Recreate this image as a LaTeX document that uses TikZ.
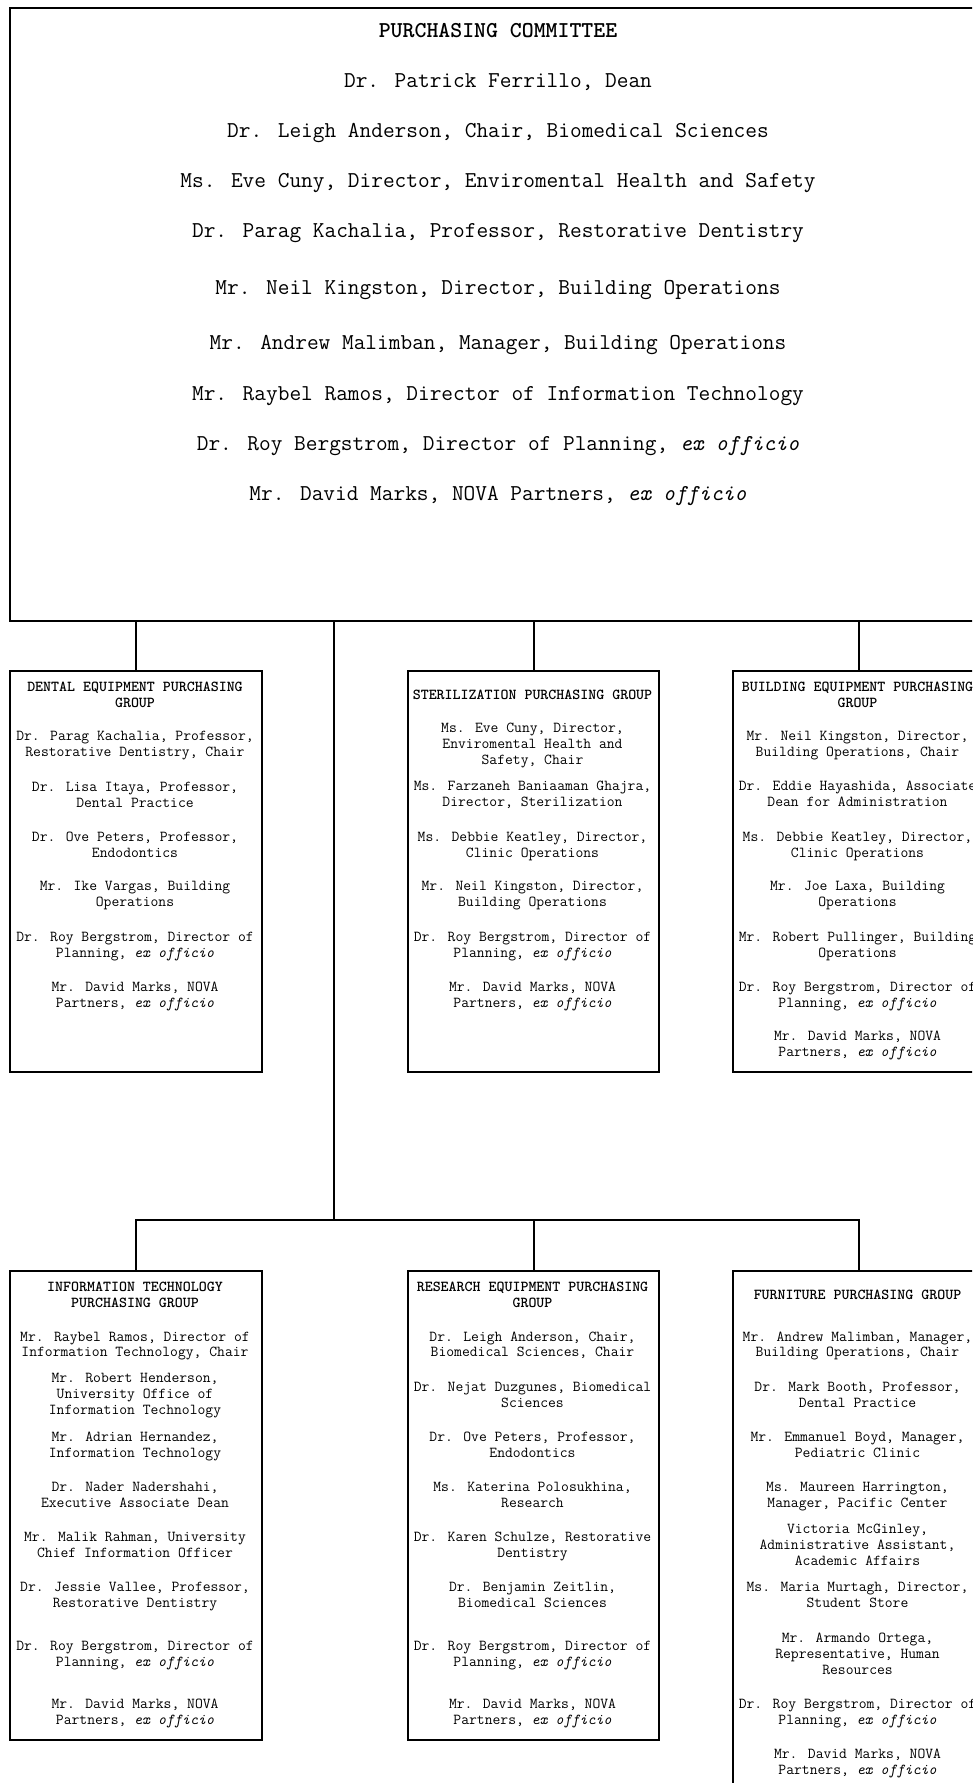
\documentclass[tikz,border=0pt]{standalone}
\usepackage{fontspec}
\newcommand\bigmono{\ttfamily\fontsize{22.7}{26}\selectfont}
\newcommand\rowonefont{\ttfamily\fontsize{15.2}{16}\selectfont}
\newcommand\rowtwofont{\ttfamily\fontsize{15.2}{15.7}\selectfont}
\begin{document}
\begin{tikzpicture}[x=1pt,y=-1pt,line width=2pt,line join=miter,
  box/.style={draw,line width=2pt,anchor=north west,inner sep=0pt},
  toptxt/.style={font=\bigmono,anchor=base,inner sep=0pt},
  onetxt/.style={font=\rowonefont,align=center,anchor=base,inner sep=0pt},
  twotxt/.style={font=\rowtwofont,align=center,anchor=base,inner sep=0pt},
  onehead/.style={onetxt,font=\rowonefont\bfseries},
  twohead/.style={twotxt,font=\rowtwofont\bfseries}]
\path[use as bounding box] (0,0) rectangle (972,1783);
\clip (0,0) rectangle (972,1783);
\fill[white] (0,0) rectangle (972,1783);

% boxes
\node[box,minimum width=978pt,minimum height=613pt] (top) at (9,7) {};
\node[box,minimum width=252pt,minimum height=401pt] (dental) at (9,670) {};
\node[box,minimum width=251pt,minimum height=401pt] (steril) at (407,670) {};
\node[box,minimum width=251pt,minimum height=401pt] (build) at (732,670) {};
\node[box,minimum width=252pt,minimum height=469pt] (it) at (9,1270) {};
\node[box,minimum width=251pt,minimum height=469pt] (research) at (407,1270) {};
\node[box,minimum width=251pt,minimum height=560pt] (furn) at (732,1270) {};

% connectors
\coordinate (junction) at (334,1220);
\draw (top.south -| dental.north) -- (dental.north);
\draw (top.south -| steril.north) -- (steril.north);
\draw (top.south -| build.north) -- (build.north);
\draw (top.south -| junction) -- (junction);
\draw (it.north) -- (it.north |- junction) -- (furn.north |- junction) -- (furn.north);
\draw (research.north |- junction) -- (research.north);

% top committee (anchor = baseline)
\node[toptxt,font=\bigmono\bfseries] (t0) at (498,37) {PURCHASING COMMITTEE};
\node[toptxt] (t1) at (498,87) {Dr. Patrick Ferrillo, Dean};
\node[toptxt] (t2) at (498,137) {Dr. Leigh Anderson, Chair, Biomedical Sciences};
\node[toptxt] (t3) at (498,187) {Ms. Eve Cuny, Director, Enviromental Health and Safety};
\node[toptxt] (t4) at (498,237) {Dr. Parag Kachalia, Professor, Restorative Dentistry};
\node[toptxt] (t5) at (498,294) {Mr. Neil Kingston, Director, Building Operations};
\node[toptxt] (t6) at (498,349) {Mr. Andrew Malimban, Manager, Building Operations};
\node[toptxt] (t7) at (498,400) {Mr. Raybel Ramos, Director of Information Technology};
\node[toptxt] (t8) at (498,450) {Dr. Roy Bergstrom, Director of Planning, \textit{ex officio}};
\node[toptxt] (t9) at (498,500) {Mr. David Marks, NOVA Partners, \textit{ex officio}};

% group boxes: node anchor = baseline of the LAST line
% dental
\node[onehead] (d0) at (135,707) {DENTAL EQUIPMENT PURCHASING\\GROUP};
\node[onetxt] (d1) at (135,756.7) {Dr. Parag Kachalia, Professor,\\Restorative Dentistry, Chair};
\node[onetxt] (d2) at (135,807) {Dr. Lisa Itaya, Professor,\\Dental Practice};
\node[onetxt] (d3) at (135,857) {Dr. Ove Peters, Professor,\\Endodontics};
\node[onetxt] (d4) at (135,906.7) {Mr. Ike Vargas, Building\\Operations};
\node[onetxt] (d5) at (135,957) {Dr. Roy Bergstrom, Director of\\Planning, \textit{ex officio}};
\node[onetxt] (d6) at (135,1007) {Mr. David Marks, NOVA\\Partners, \textit{ex officio}};

% sterilization
\node[onehead] (s0) at (532.5,699) {STERILIZATION PURCHASING GROUP};
\node[onetxt] (s1) at (532.5,764) {Ms. Eve Cuny, Director,\\Enviromental Health and\\Safety, Chair};
\node[onetxt] (s2) at (532.5,806.7) {Ms. Farzaneh Baniaaman Ghajra,\\Director, Sterilization};
\node[onetxt] (s3) at (532.5,857) {Ms. Debbie Keatley, Director,\\Clinic Operations};
\node[onetxt] (s4) at (532.5,906.7) {Mr. Neil Kingston, Director,\\Building Operations};
\node[onetxt] (s5) at (532.5,957) {Dr. Roy Bergstrom, Director of\\Planning, \textit{ex officio}};
\node[onetxt] (s6) at (532.5,1007) {Mr. David Marks, NOVA\\Partners, \textit{ex officio}};

% building
\node[onehead] (b0) at (857.5,707) {BUILDING EQUIPMENT PURCHASING\\GROUP};
\node[onetxt] (b1) at (857.5,756.7) {Mr. Neil Kingston, Director,\\Building Operations, Chair};
\node[onetxt] (b2) at (857.5,806.7) {Dr. Eddie Hayashida, Associate\\Dean for Administration};
\node[onetxt] (b3) at (857.5,857) {Ms. Debbie Keatley, Director,\\Clinic Operations};
\node[onetxt] (b4) at (857.5,906.7) {Mr. Joe Laxa, Building\\Operations};
\node[onetxt] (b5) at (857.5,957) {Mr. Robert Pullinger, Building\\Operations};
\node[onetxt] (b6) at (857.5,1007) {Dr. Roy Bergstrom, Director of\\Planning, \textit{ex officio}};
\node[onetxt] (b7) at (857.5,1056.7) {Mr. David Marks, NOVA\\Partners, \textit{ex officio}};

% information technology
\node[twohead] (i0) at (135,1307) {INFORMATION TECHNOLOGY\\PURCHASING GROUP};
\node[twotxt] (i1) at (135,1356.8) {Mr. Raybel Ramos, Director of\\Information Technology, Chair};
\node[twotxt] (i2) at (135,1414.2) {Mr. Robert Henderson,\\University Office of\\Information Technology};
\node[twotxt] (i3) at (135,1457.1) {Mr. Adrian Hernandez,\\Information Technology};
\node[twotxt] (i4) at (135,1507.4) {Dr. Nader Nadershahi,\\Executive Associate Dean};
\node[twotxt] (i5) at (135,1557.3) {Mr. Malik Rahman, University\\Chief Information Officer};
\node[twotxt] (i6) at (135,1607.6) {Dr. Jessie Vallee, Professor,\\Restorative Dentistry};
\node[twotxt] (i7) at (135,1666.5) {Dr. Roy Bergstrom, Director of\\Planning, \textit{ex officio}};
\node[twotxt] (i8) at (135,1724.3) {Mr. David Marks, NOVA\\Partners, \textit{ex officio}};

% research
\node[twohead] (r0) at (532.5,1307) {RESEARCH EQUIPMENT PURCHASING\\GROUP};
\node[twotxt] (r1) at (532.5,1356.8) {Dr. Leigh Anderson, Chair,\\Biomedical Sciences, Chair};
\node[twotxt] (r2) at (532.5,1407.1) {Dr. Nejat Duzgunes, Biomedical\\Sciences};
\node[twotxt] (r3) at (532.5,1457.1) {Dr. Ove Peters, Professor,\\Endodontics};
\node[twotxt] (r4) at (532.5,1507.4) {Ms. Katerina Polosukhina,\\Research};
\node[twotxt] (r5) at (532.5,1557.3) {Dr. Karen Schulze, Restorative\\Dentistry};
\node[twotxt] (r6) at (532.5,1607.6) {Dr. Benjamin Zeitlin,\\Biomedical Sciences};
\node[twotxt] (r7) at (532.5,1666.5) {Dr. Roy Bergstrom, Director of\\Planning, \textit{ex officio}};
\node[twotxt] (r8) at (532.5,1724.3) {Mr. David Marks, NOVA\\Partners, \textit{ex officio}};

% furniture
\node[twohead] (f0) at (857.5,1299.3) {FURNITURE PURCHASING GROUP};
\node[twotxt] (f1) at (857.5,1356.8) {Mr. Andrew Malimban, Manager,\\Building Operations, Chair};
\node[twotxt] (f2) at (857.5,1407.1) {Dr. Mark Booth, Professor,\\Dental Practice};
\node[twotxt] (f3) at (857.5,1457.1) {Mr. Emmanuel Boyd, Manager,\\Pediatric Clinic};
\node[twotxt] (f4) at (857.5,1507.4) {Ms. Maureen Harrington,\\Manager, Pacific Center};
\node[twotxt] (f5) at (857.5,1565.1) {Victoria McGinley,\\Administrative Assistant,\\Academic Affairs};
\node[twotxt] (f6) at (857.5,1607.6) {Ms. Maria Murtagh, Director,\\Student Store};
\node[twotxt] (f7) at (857.5,1674) {Mr. Armando Ortega,\\Representative, Human\\Resources};
\node[twotxt] (f8) at (857.5,1724.3) {Dr. Roy Bergstrom, Director of\\Planning, \textit{ex officio}};
\node[twotxt] (f9) at (857.5,1774.6) {Mr. David Marks, NOVA\\Partners, \textit{ex officio}};
\end{tikzpicture}
\end{document}
